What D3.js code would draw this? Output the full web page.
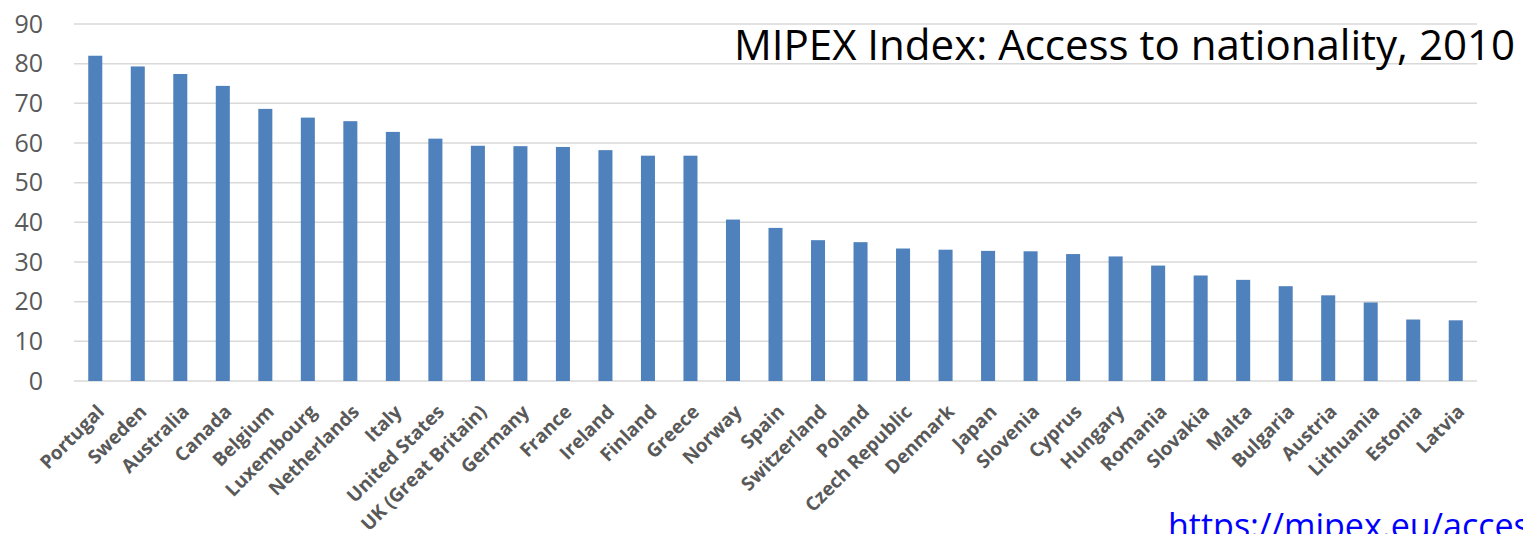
<!DOCTYPE html>
<html>
<head>
<meta charset="utf-8">
<script src="https://cdn.jsdelivr.net/npm/d3@7"></script>
<style>
  body { margin: 0; background: #fff; }
  svg { display: block; }
  .y.axis text { font-family: 'Open Sans', sans-serif; font-size: 25px; fill: #595959; }
  .x-label { font-family: 'Open Sans', sans-serif; font-size: 19px; font-weight: bold; fill: #595959; }
  .grid line { stroke: #d9d9d9; stroke-width: 1.5; }
</style>
</head>
<body>
<div id="chart"></div>
<script>
var countries = ['Portugal', 'Sweden', 'Australia', 'Canada', 'Belgium', 'Luxembourg',
  'Netherlands', 'Italy', 'United States', 'UK (Great Britain)', 'Germany', 'France',
  'Ireland', 'Finland', 'Greece', 'Norway', 'Spain', 'Switzerland', 'Poland',
  'Czech Republic', 'Denmark', 'Japan', 'Slovenia', 'Cyprus', 'Hungary', 'Romania',
  'Slovakia', 'Malta', 'Bulgaria', 'Austria', 'Lithuania', 'Estonia', 'Latvia'];
var scores = [82, 79.3, 77.4, 74.4, 68.6, 66.4, 65.5, 62.8, 61.1, 59.3, 59.2, 59,
  58.2, 56.8, 56.8, 40.7, 38.6, 35.5, 35, 33.4, 33.1, 32.8, 32.7, 32, 31.4, 29.1,
  26.6, 25.5, 23.9, 21.6, 19.8, 15.5, 15.3];
var yTicks = [0, 10, 20, 30, 40, 50, 60, 70, 80, 90];
var title = 'MIPEX Index: Access to nationality, 2010';
var sourceUrl = 'https://mipex.eu/access-nationality';

var W = 1523, H = 534;
var margin = { top: 24, right: 46, bottom: 153, left: 74 },
  width = W - margin.left - margin.right,
  height = H - margin.top - margin.bottom;

var svg = d3.select('#chart')
  .append('svg')
  .attr('width', W)
  .attr('height', H);

var g = svg.append('g')
  .attr('transform', 'translate(' + margin.left + ',' + margin.top + ')');

var x = d3.scaleBand()
  .domain(countries)
  .range([0, width])
  .paddingInner(0.67)
  .paddingOuter(0.335);

var y = d3.scaleLinear()
  .domain([0, 90])
  .range([height, 0]);

// gridlines
g.append('g')
  .attr('class', 'grid')
  .selectAll('line')
  .data(yTicks)
  .enter()
  .append('line')
  .attr('x1', 0)
  .attr('x2', width)
  .attr('y1', function(d) { return y(d); })
  .attr('y2', function(d) { return y(d); });

var yAxis = d3.axisLeft(y)
  .tickValues(yTicks)
  .tickSize(0)
  .tickPadding(31);
g.append('g')
  .attr('class', 'y axis')
  .call(yAxis)
  .call(function(s) { s.select('.domain').remove(); });

g.selectAll('rect.bar')
  .data(countries)
  .enter()
  .append('rect')
  .attr('class', 'bar')
  .attr('x', function(d) { return x(d); })
  .attr('width', x.bandwidth())
  .attr('y', function(d, i) { return y(scores[i]); })
  .attr('height', function(d, i) { return height - y(scores[i]); })
  .attr('fill', '#4f81bd');

// rotated category labels
g.selectAll('text.x-label')
  .data(countries)
  .enter()
  .append('text')
  .attr('class', 'x-label')
  .attr('text-anchor', 'end')
  .attr('transform', function(d) {
    var cx = x(d) + x.bandwidth() / 2;
    return 'translate(' + (cx + 10) + ',' + (height + 32) + ') rotate(-45)';
  })
  .text(function(d) { return d; });

svg.append('text')
  .attr('x', 734)
  .attr('y', 60)
  .attr('textLength', 781)
  .attr('lengthAdjust', 'spacingAndGlyphs')
  .style('font-family', "'Open Sans', sans-serif")
  .style('font-size', '42px')
  .style('fill', '#000')
  .text(title);

svg.append('text')
  .attr('x', 1168)
  .attr('y', 538)
  .style('font-family', "'Open Sans', sans-serif")
  .style('font-size', '34px')
  .style('fill', '#0000ff')
  .text(sourceUrl);
</script>
</body>
</html>
